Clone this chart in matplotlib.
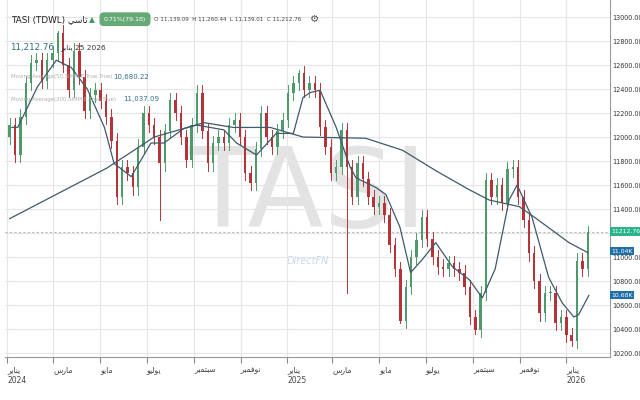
import matplotlib
matplotlib.use("Agg")
import matplotlib.pyplot as plt
import matplotlib.dates as mdates
from matplotlib.patches import Rectangle
import numpy as np
import datetime as dt

# weekly closes (week 0 = 2024-01-04)
closes = [12100, 11850, 12170, 12450, 12620, 12640, 12470, 12640, 12700, 12870,
          12600, 12390, 12720, 12500, 12220, 12350, 12390, 12300, 12170, 11970,
          11500, 11750, 11700, 11580, 11920, 12200, 12100, 12000, 11780, 12050,
          12310, 12200, 12000, 11810, 12100, 12370, 12050, 11780, 11950, 12000,
          11950, 12100, 12140, 12000, 11700, 11620, 11900, 12200, 12000, 11920,
          12050, 12140, 12370, 12450, 12530, 12390, 12450, 12390, 12080, 11920,
          11700, 11750, 12060, 11750, 11500, 11780, 11650, 11500, 11420, 11450,
          11350, 11100, 10900, 10470, 10750, 11000, 11140, 11330, 11150, 11000,
          10920, 10900, 10950, 10900, 10870, 10750, 10500, 10390, 10700, 11640,
          11500, 11600, 11450, 11730, 11750, 11500, 11310, 11030, 10800, 10530,
          10700, 10700, 10450, 10500, 10350, 10300, 10970, 10900, 11212.76]
first_open = 12000
spike_lows = {28: 11310, 63: 10700, 73: 10450, 87: 10360, 105: 10260}
spike_highs = {9: 12880, 54: 12560, 108: 11260.44}

ma200_weeks = [0, 18.1, 27, 36.3, 41.8, 48.7, 54.8, 66.5, 73.4, 79.6, 85.9, 89.6, 95.2, 98.1, 104.5, 108]
ma200_vals = [11320, 11740, 12000, 12120, 12080, 12080, 12000, 11990, 11890, 11720, 11560, 11475, 11420, 11330, 11120, 11037.09]
ma50_weeks = [0.4, 1.5, 5.2, 8.7, 11.5, 14.5, 17.7, 19.5, 22.7, 26.4, 28.8, 32.5, 34.9, 40, 42.4, 46.1, 49.8, 53, 54.8, 56.1, 58, 61, 63.6, 64.7, 68.4, 70.3, 72.9, 74.9, 77.1, 79.6, 82.7, 85.9, 88.3, 90.7, 93.3, 94.8, 97.6, 100.7, 103.2, 105.4, 106.3, 108.2]
ma50_vals = [12080, 12080, 12420, 12640, 12580, 12400, 12080, 11780, 11670, 11950, 11950, 12070, 12100, 12060, 11950, 11850, 12030, 12030, 12330, 12370, 12390, 12080, 11750, 11660, 11580, 11520, 11250, 10870, 10980, 11120, 10920, 10810, 10660, 10900, 11475, 11600, 11330, 10830, 10620, 10500, 10520, 10680.22]

month_ticks = ["2024-01-01", "2024-03-01", "2024-05-01", "2024-07-01", "2024-09-01", "2024-11-01",
               "2025-01-01", "2025-03-01", "2025-05-01", "2025-07-01", "2025-09-01", "2025-11-01", "2026-01-01"]
month_names = ["ﺮﻳﺎﻨﻳ\n2024", "ﺱﺭﺎﻣ", "ﻮﻳﺎﻣ", "ﻮﻴﻟﻮﻳ", "ﺮﺒﻤﺘﺒﺳ", "ﺮﺒﻤﻓﻮﻧ",
               "ﺮﻳﺎﻨﻳ\n2025", "ﺱﺭﺎﻣ", "ﻮﻳﺎﻣ", "ﻮﻴﻟﻮﻳ", "ﺮﺒﻤﺘﺒﺳ", "ﺮﺒﻤﻓﻮﻧ", "ﺮﻳﺎﻨﻳ\n2026"]

start = dt.date(2024, 1, 4)
def wdate(w):
    return mdates.date2num(start) + 7 * w

plt.rcParams['font.family'] = ['DejaVu Sans']
fig = plt.figure(figsize=(6.4, 4.0), dpi=100)
ax = fig.add_axes([0.008, 0.1075, 0.945, 0.8925])
ymin, ymax = 10167, 13142
ax.set_ylim(ymin, ymax)
ax.set_xlim(mdates.date2num(dt.date(2023, 12, 29)), mdates.date2num(dt.date(2026, 2, 27)))

up, dn = "#4f9a6b", "#b5343a"
opens = [first_open] + closes[:-1]
for i, (o, c) in enumerate(zip(opens, closes)):
    x = wdate(i)
    col = up if c >= o else dn
    hi = spike_highs.get(i, max(o, c) + 60)
    lo = spike_lows.get(i, min(o, c) - 60)
    ax.plot([x, x], [lo, hi], color=col, lw=0.7, zorder=3)
    ax.add_patch(Rectangle((x - 1.6, min(o, c)), 3.2, max(abs(c - o), 8), color=col, zorder=3, lw=0))

ax.plot([wdate(w) for w in ma200_weeks], ma200_vals, color="#3e5a6b", lw=0.9, zorder=4)
ax.plot([wdate(w) for w in ma50_weeks], ma50_vals, color="#3e5a6b", lw=0.9, zorder=4)

ax.yaxis.tick_right()
yt = np.arange(10200, 13001, 200)
ax.set_yticks(yt)
ax.set_yticklabels([f"{v:.2f}" for v in yt], fontsize=4.7, color="#333333")
ax.tick_params(axis='y', length=0, pad=2)
xt = [mdates.date2num(dt.date.fromisoformat(s)) for s in month_ticks]
ax.set_xticks(xt)
ax.set_xticklabels(month_names, fontsize=5.5, color="#444444", ha="left")
ax.tick_params(axis='x', length=4, color="#888888", pad=2)
ax.grid(True, color="#e6e6e6", lw=0.8)
for s in ["top", "left"]:
    ax.spines[s].set_visible(False)
ax.spines["bottom"].set_color("#999999")
ax.spines["right"].set_color("#999999")

ax.axhline(11212.76, color="#bbbbbb", ls=(0, (2, 2)), lw=0.8)
ax.text(0.5, 0.45, "TASI", transform=ax.transAxes, fontsize=80, color="#e3e3e3",
        ha="center", va="center", zorder=0)
ax.text(0.5, 0.27, "DirectFN", transform=ax.transAxes, fontsize=7, color="#c5d8ee",
        ha="center", va="center", zorder=0, style="italic")

def tag(y, txt, fc):
    ax.text(1.002, (y - ymin) / (ymax - ymin), txt, transform=ax.transAxes, fontsize=4.4,
            color="white", va="center", ha="left",
            bbox=dict(boxstyle="square,pad=0.25", fc=fc, ec="none"))
tag(11212.76, "11212.76", "#2bb38a")
tag(11050, "11.04K", "#1f6fa8")
tag(10680, "10.68K", "#1f6fa8")

fig.text(11/640, 0.952, "TASI (TDWL) ﻲﺳﺎﺗ", fontsize=6.3, color="#222222", va="center")
fig.text(89/640, 0.952, "▲", fontsize=5.5, color="#3e9a5e", va="center")
fig.text(125/640, 0.952, "0.71%(79.18)", fontsize=4.5, color="white", va="center", ha="center",
         bbox=dict(boxstyle="round,pad=0.7", fc="#66aa77", ec="none"))
fig.text(154/640, 0.952, "O 11,139.09  H 11,260.44  L 11,139.01  C 11,212.76", fontsize=4.1,
         color="#444444", va="center")
fig.text(310/640, 0.952, "⚙", fontsize=7.5, color="#555555", va="center")
fig.text(10/640, 0.882, "11,212.76", fontsize=6.3, color="#2f6f86", va="center")
fig.text(60/640, 0.882, "ﺮﻳﺎﻨﻳ 25 2026", fontsize=5.3, color="#333333", va="center")
fig.text(11/640, 0.808, "Moving Average(50,SIMPLE,True,True)", fontsize=3.9, color="#b0b0b0", va="center")
fig.text(113/640, 0.808, "10,680.22", fontsize=5, color="#2f6f86", va="center")
fig.text(11/640, 0.752, "Moving Average(200,SIMPLE,True,True)", fontsize=3.9, color="#b0b0b0", va="center")
fig.text(123/640, 0.752, "11,037.09", fontsize=5, color="#2f6f86", va="center")

fig.savefig("out.png", dpi=100, facecolor="white")
